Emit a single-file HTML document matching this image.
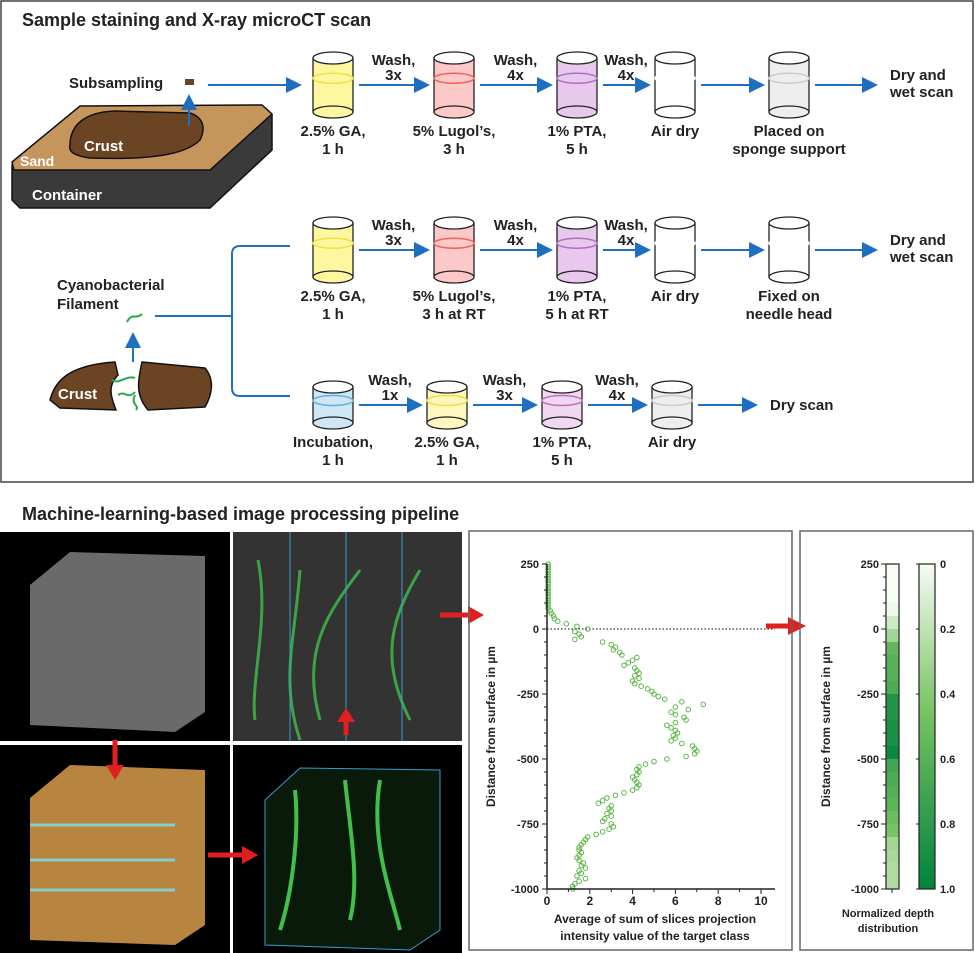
<!DOCTYPE html>
<html><head><meta charset="utf-8"><style>
body{margin:0;background:#fff;}
svg{display:block;font-family:"Liberation Sans",Arial,sans-serif;}
</style></head><body>
<svg id="fig" width="975" height="953" viewBox="0 0 975 953" xmlns="http://www.w3.org/2000/svg">
<defs>
<marker id="ab" markerWidth="8" markerHeight="8" refX="7" refY="4" orient="auto"><path d="M0,0 L8,4 L0,8 z" fill="#1f6fc0"/></marker>
</defs>
<rect x="1" y="1" width="972" height="481" fill="#fff" stroke="#444" stroke-width="1.5"/>
<text x="22" y="26" font-size="18" font-weight="bold" fill="#222">Sample staining and X-ray microCT scan</text>
<g>
<path d="M12,165 L80,108 L262,106 L272,115 L272,150 L210,208 L20,208 L12,200 z" fill="#3a3a3a" stroke="#111" stroke-width="1.5"/>
<path d="M12,162 L80,106 L262,105 L272,114 L210,170 L14,170 z" fill="#c6955c" stroke="#111" stroke-width="1.5"/>
<path d="M70,145 C70,125 85,112 115,111 L190,113 C205,118 205,130 200,140 C185,155 150,160 90,158 C75,156 68,152 70,145z" fill="#6b4423" stroke="#111" stroke-width="1.5"/>
<text x="84" y="151" font-size="15" font-weight="bold" fill="#fff">Crust</text>
<text x="20" y="166" font-size="14" font-weight="bold" fill="#fff">Sand</text>
<text x="32" y="200" font-size="15" font-weight="bold" fill="#fff">Container</text>
</g>
<text x="69" y="88" font-size="15" font-weight="bold" fill="#222">Subsampling</text>
<rect x="185" y="79" width="9" height="6" fill="#6b4423"/>
<line x1="189" y1="126" x2="189" y2="96" stroke="#1f6fc0" stroke-width="2" marker-end="url(#ab)"/>
<g id="flow"></g>
<g>
<path d="M50,400 C55,380 70,365 115,362 L118,375 C108,385 110,395 116,410 L60,408 z" fill="#6b4423" stroke="#111" stroke-width="1.5"/>
<path d="M142,362 L205,368 C215,380 212,395 205,407 L148,410 C135,395 138,380 142,362z" fill="#6b4423" stroke="#111" stroke-width="1.5"/>
<text x="58" y="399" font-size="15" font-weight="bold" fill="#fff">Crust</text>
<path d="M112,380 C120,385 125,375 135,378 M118,395 C125,390 128,400 135,392 M135,395 C130,405 140,405 136,410" stroke="#2aa84a" stroke-width="2" fill="none"/>
<line x1="133" y1="362" x2="133" y2="334" stroke="#1f6fc0" stroke-width="2" marker-end="url(#ab)"/>
<path d="M127,322 C132,312 136,320 142,314" stroke="#2aa84a" stroke-width="2" fill="none"/>
<text x="57" y="290" font-size="15" font-weight="bold" fill="#222">Cyanobacterial</text>
<text x="57" y="309" font-size="15" font-weight="bold" fill="#222">Filament</text>
<path d="M155,316 L232,316 M232,316 L232,254 Q232,246 240,246 L290,246 M232,316 L232,388 Q232,396 240,396 L290,396" stroke="#1f6fc0" stroke-width="2" fill="none"/>
</g>
<text x="22" y="520" font-size="18" font-weight="bold" fill="#222">Machine-learning-based image processing pipeline</text>
<g>
<rect x="0" y="532" width="230" height="209" fill="#000"/>
<rect x="233" y="532" width="229" height="209" fill="#333"/>
<rect x="0" y="745" width="230" height="208" fill="#000"/>
<rect x="233" y="745" width="229" height="208" fill="#000"/>
<path d="M30,585 L70,552 L205,556 L205,712 L175,732 L30,725 z" fill="#6a6a6a"/>
<path d="M30,798 L70,765 L205,770 L205,925 L175,945 L30,940 z" fill="#b88540"/>
<path d="M30,825 L175,825 M30,860 L175,860 M30,890 L175,890" stroke="#8cc" stroke-width="3"/>
<path d="M265,800 L300,768 L440,770 L440,930 L410,950 L265,945 z" fill="#0a1a0a" stroke="#3a9ad0"/>
<path d="M295,790 C300,840 290,900 280,930 M345,780 C350,830 360,880 350,920 M380,780 C370,840 390,890 400,930" stroke="#3ec04a" stroke-width="4" fill="none"/>
<path d="M258,560 C270,620 250,680 255,720 M300,570 C295,640 280,680 300,740 M360,570 C330,610 300,650 320,720 M420,570 C390,620 380,660 410,720" stroke="#3ec04a" stroke-width="3" fill="none" opacity=".8"/>
<path d="M290,532 V741 M346,532 V741 M402,532 V741" stroke="#3a9ad0" stroke-width="1"/>
<path d="M115,740 V770" stroke="#e02020" stroke-width="5"/><path d="M106,765 L115,780 L124,765z" fill="#e02020"/>
<path d="M346,735 V720" stroke="#e02020" stroke-width="5"/><path d="M337,722 L346,708 L355,722z" fill="#e02020"/>
<path d="M208,855 H245" stroke="#e02020" stroke-width="5"/><path d="M242,846 L258,855 L242,864z" fill="#e02020"/>
<path d="M440,615 H470" stroke="#e02020" stroke-width="5"/><path d="M468,606 L484,615 L468,624z" fill="#e02020"/>
<path d="M766,626 H790" stroke="#e02020" stroke-width="5"/><path d="M788,617 L806,626 L788,635z" fill="#e02020"/>
</g>
<rect x="469" y="531" width="323" height="419" fill="none" stroke="#666" stroke-width="1.5"/>
<rect x="800" y="531" width="173" height="419" fill="none" stroke="#666" stroke-width="1.5"/>
<g id="scatter"></g>
<g id="heat"></g>
</svg>
<script>
const NS="http://www.w3.org/2000/svg";
function mk(p,t,a,txt){const e=document.createElementNS(NS,t);for(const k in a)e.setAttribute(k,a[k]);if(txt!==undefined)e.textContent=txt;p.appendChild(e);return e;}
// ---- flow diagram ----
const flow=document.getElementById('flow');
const rows=[
 {y:85,h:27,cups:[[333,'#fff7a0','#f0e040'],[454,'#fcc8c8','#f06060'],[577,'#e8c8ec','#b070c0'],[675,'#fff','#fff'],[789,'#eee','#ccc']],
  labels:[['2.5% GA,','1 h'],['5% Lugol’s,','3 h'],['1% PTA,','5 h'],['Air dry',''],['Placed on','sponge support']],
  wash:['Wash,|3x','Wash,|4x','Wash,|4x',''],end:['Dry and','wet scan'],endx:888,lab:136},
 {y:250,h:27,cups:[[333,'#fff7a0','#f0e040'],[454,'#fcc8c8','#f06060'],[577,'#e8c8ec','#b070c0'],[675,'#fff','#fff'],[789,'#fff','#fff']],
  labels:[['2.5% GA,','1 h'],['5% Lugol’s,','3 h at RT'],['1% PTA,','5 h at RT'],['Air dry',''],['Fixed on','needle head']],
  wash:['Wash,|3x','Wash,|4x','Wash,|4x',''],end:['Dry and','wet scan'],endx:888,lab:301},
 {y:405,h:18,cups:[[333,'#cfe6f5','#60b0e0'],[447,'#fff7c0','#f0e040'],[562,'#f0d8f0','#c070c0'],[672,'#eee','#ccc']],
  labels:[['Incubation,','1 h'],['2.5% GA,','1 h'],['1% PTA,','5 h'],['Air dry','']],
  wash:['Wash,|1x','Wash,|3x','Wash,|4x'],end:['Dry scan'],endx:768,lab:447}
];
rows.forEach((r,ri)=>{
 r.cups.forEach((c,i)=>{
  const g=mk(flow,'g',{});
  
  
  const x=c[0],y=r.y,h=r.h;
  mk(g,'rect',{x:x-20,y:y-h,width:40,height:2*h,fill:c[1],stroke:'#222','stroke-width':1.3});
  mk(g,'ellipse',{cx:x,cy:y-h,rx:20,ry:6,fill:'#fff',stroke:'#222','stroke-width':1.3});
  mk(g,'ellipse',{cx:x,cy:y-h/4,rx:20,ry:5,fill:'none',stroke:c[2],'stroke-width':1.5});
  mk(g,'ellipse',{cx:x,cy:y+h,rx:20,ry:6,fill:c[1],stroke:'#222','stroke-width':1.3});
  const l=r.labels[i];
  const t1=mk(flow,'text',{x:x,y:r.lab,'font-size':15,'font-weight':'bold','text-anchor':'middle',fill:'#222'},l[0]);
  
  
  mk(flow,'text',{x:x,y:r.lab+18,'font-size':15,'font-weight':'bold','text-anchor':'middle',fill:'#222'},l[1]);
  const nx=i<r.cups.length-1?r.cups[i+1][0]:r.endx;
  const a=mk(flow,'line',{x1:x+26,y1:y,x2:nx-(i<r.cups.length-1?26:12),y2:y,stroke:'#1f6fc0','stroke-width':2,'marker-end':'url(#ab)'});
  
  
  const w=r.wash[i];
  if(w){const p=w.split('|');const mx=(x+nx)/2;
   mk(flow,'text',{x:mx,y:y-20,'font-size':15,'font-weight':'bold','text-anchor':'middle',fill:'#222'},p[0]);
   mk(flow,'text',{x:mx,y:y-5,'font-size':15,'font-weight':'bold','text-anchor':'middle',fill:'#222'},p[1]);}
 });
 const et=mk(flow,'text',{x:r.endx+2,y:r.end.length>1?r.y-5:r.y+5,'font-size':15,'font-weight':'bold',fill:'#222'},r.end[0]);
 
 
 if(r.end[1])mk(flow,'text',{x:r.endx+2,y:r.y+12,'font-size':15,'font-weight':'bold',fill:'#222'},r.end[1]);
});
mk(flow,'line',{x1:208,y1:85,x2:300,y2:85,stroke:'#1f6fc0','stroke-width':2,'marker-end':'url(#ab)'});

// ---- scatter chart data ----
const depths=[250,240,230,220,210,200,190,180,170,160,150,140,130,120,110,100,90,80,70,60,50,40,30,20,10,0,-10,-20,-30,-40,-50,-60,-70,-80,-90,-100,-110,-120,-130,-140,-150,-160,-170,-180,-190,-200,-210,-220,-230,-240,-250,-260,-270,-280,-290,-300,-310,-320,-330,-340,-350,-360,-370,-380,-390,-400,-410,-420,-430,-440,-450,-460,-470,-480,-490,-500,-510,-520,-530,-540,-550,-560,-570,-580,-590,-600,-610,-620,-630,-640,-650,-660,-670,-680,-690,-700,-710,-720,-730,-740,-750,-760,-770,-780,-790,-800,-810,-820,-830,-840,-850,-860,-870,-880,-890,-900,-910,-920,-930,-940,-950,-960,-970,-980,-990,-1000];
const intensity=[0.05,0.05,0.05,0.05,0.05,0.05,0.05,0.05,0.05,0.05,0.05,0.05,0.05,0.05,0.05,0.05,0.05,0.05,0.15,0.2,0.3,0.35,0.5,0.9,1.4,1.9,1.3,1.5,1.6,1.3,2.6,3.0,3.2,3.1,3.4,3.5,4.2,4.0,3.8,3.6,4.1,4.2,4.3,4.1,4.3,4.0,4.1,4.4,4.7,4.9,5.0,5.2,5.5,6.3,7.3,6.0,6.6,5.8,6.0,6.4,6.5,6.0,5.6,5.8,6.0,6.1,5.9,6.0,5.8,6.3,6.8,6.9,7.0,6.9,6.5,5.6,5.0,4.6,4.3,4.2,4.3,4.2,4.0,4.1,4.2,4.3,4.2,4.0,3.6,3.2,2.8,2.6,2.4,3.0,2.9,3.0,2.8,3.0,2.7,2.6,3.0,3.1,2.9,2.6,2.3,1.9,1.8,1.7,1.6,1.5,1.5,1.6,1.5,1.4,1.5,1.7,1.6,1.8,1.5,1.6,1.4,1.8,1.5,1.3,1.2,1.2];
const xTicks=[0,2,4,6,8,10];
const yTicks=[250,0,-250,-500,-750,-1000];
const X0=547,X1=761,Y0=564,Y1=889;
const sx=v=>X0+(v-0)/(10-0)*(X1-X0);
const sy=v=>Y0+(250-v)/(1250)*(Y1-Y0);
const sc=document.getElementById('scatter');
mk(sc,'line',{x1:X0,y1:sy(0),x2:775,y2:sy(0),stroke:'#333','stroke-width':1.2,'stroke-dasharray':'1.5,2'});
depths.forEach((d,i)=>{
 const c=mk(sc,'circle',{cx:sx(intensity[i]),cy:sy(d),r:2.3,fill:'none',stroke:'#5cb848','stroke-width':1});
 
 
});
mk(sc,'line',{x1:X0,y1:Y0,x2:X0,y2:Y1,stroke:'#222','stroke-width':1.5});
mk(sc,'line',{x1:X0,y1:Y1,x2:775,y2:Y1,stroke:'#222','stroke-width':1.5});
for(let v=250;v>=-1000;v-=50){mk(sc,'line',{x1:X0-(v%250===0?5:3),y1:sy(v),x2:X0,y2:sy(v),stroke:'#222'});}
yTicks.forEach(v=>{const t=mk(sc,'text',{x:X0-8,y:sy(v)+4,'font-size':11,'font-weight':'bold','text-anchor':'end',fill:'#222'},v);
 });
for(let v=0;v<=10;v++){mk(sc,'line',{x1:sx(v),y1:Y1,x2:sx(v),y2:Y1+(v%2===0?5:3),stroke:'#222'});}
xTicks.forEach(v=>{const t=mk(sc,'text',{x:sx(v),y:Y1+16,'font-size':12,'font-weight':'bold','text-anchor':'middle',fill:'#222'},v);
 });
const yt=mk(sc,'text',{x:0,y:0,'font-size':12,'font-weight':'bold','text-anchor':'middle',fill:'#222',transform:`translate(495,${(Y0+Y1)/2}) rotate(-90)`},'Distance from surface in µm');

const xt=mk(sc,'text',{x:655,y:923,'font-size':12,'font-weight':'bold','text-anchor':'middle',fill:'#222'},'Average of sum of slices projection');

mk(sc,'text',{x:655,y:940,'font-size':12,'font-weight':'bold','text-anchor':'middle',fill:'#222'},'intensity value of the target class');

// ---- heatmap data ----
const binTops=[250,200,150,100,50,0,-50,-100,-150,-200,-250,-300,-350,-400,-450,-500,-550,-600,-650,-700,-750,-800,-850,-900,-950];
const binValues=[0,0,0,0.03,0.15,0.3,0.55,0.6,0.6,0.65,0.85,0.85,0.88,0.88,0.95,0.7,0.65,0.62,0.58,0.5,0.45,0.3,0.28,0.25,0.25];
const cbTicks=[0,0.2,0.4,0.6,0.8,1.0];
const hm=document.getElementById('heat');
const HX=886,HW=13,CX=919,CW=16;
function col(v){const a=[247,252,245],b=[120,195,100],c=[0,130,60];let r;
 if(v<0.45){const t=v/0.45;r=a.map((x,i)=>x+(b[i]-x)*t);}else{const t=(v-0.45)/0.55;r=b.map((x,i)=>x+(c[i]-x)*t);}
 return `rgb(${r.map(Math.round).join(',')})`;}
binTops.forEach((t,i)=>{const r=mk(hm,'rect',{x:HX,y:sy(t),width:HW,height:sy(t-50)-sy(t)+0.5,fill:col(binValues[i])});
 });
mk(hm,'rect',{x:HX,y:Y0,width:HW,height:Y1-Y0,fill:'none',stroke:'#222','stroke-width':1.2});
const gr=mk(hm,'linearGradient',{id:'cbg',x1:0,y1:0,x2:0,y2:1});
[0,0.1,0.2,0.3,0.4,0.45,0.5,0.6,0.7,0.8,0.9,1].forEach(v=>mk(gr,'stop',{offset:v,'stop-color':col(v)}));
const cb=mk(hm,'rect',{x:CX,y:Y0,width:CW,height:Y1-Y0,fill:'url(#cbg)',stroke:'#222','stroke-width':1.2});

for(let v=250;v>=-1000;v-=50){mk(hm,'line',{x1:HX-(v%250===0?5:3),y1:sy(v),x2:HX,y2:sy(v),stroke:'#222'});}
mk(hm,'line',{x1:HX+6,y1:Y1,x2:HX+6,y2:Y1+4,stroke:'#222'});
yTicks.forEach(v=>{const t=mk(hm,'text',{x:HX-7,y:sy(v)+4,'font-size':11,'font-weight':'bold','text-anchor':'end',fill:'#222'},v);
 });
cbTicks.forEach(v=>{const y=Y0+v*(Y1-Y0);mk(hm,'line',{x1:CX-3,y1:y,x2:CX,y2:y,stroke:'#222'});
 const t=mk(hm,'text',{x:CX+CW+5,y:y+4,'font-size':11,'font-weight':'bold',fill:'#222'},v===0?'0':v.toFixed(1));
 });
const ht=mk(hm,'text',{x:0,y:0,'font-size':12,'font-weight':'bold','text-anchor':'middle',fill:'#222',transform:`translate(830,${(Y0+Y1)/2}) rotate(-90)`},'Distance from surface in µm');

mk(hm,'text',{x:888,y:917,'font-size':11,'font-weight':'bold','text-anchor':'middle',fill:'#222'},'Normalized depth');
mk(hm,'text',{x:888,y:932,'font-size':11,'font-weight':'bold','text-anchor':'middle',fill:'#222'},'distribution');
</script>
</body></html>
